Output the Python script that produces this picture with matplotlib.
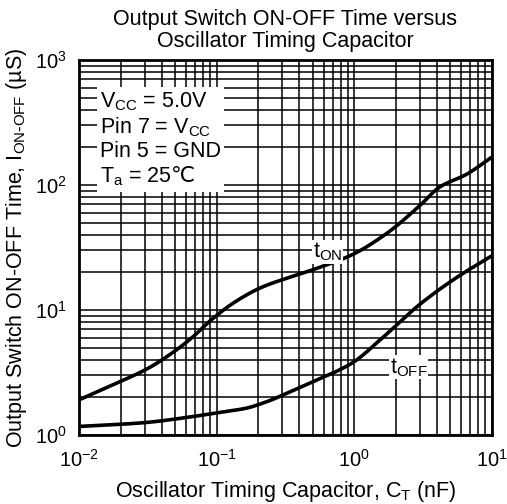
import numpy as np
import matplotlib
matplotlib.use("Agg")
import matplotlib.pyplot as plt
from matplotlib.ticker import LogLocator, FixedLocator

plt.rcParams['font.family'] = ['Liberation Sans', 'DejaVu Sans']
plt.rcParams['mathtext.fontset'] = 'custom'
plt.rcParams['mathtext.rm'] = 'DejaVu Sans'
plt.rcParams['mathtext.it'] = 'Liberation Sans'
plt.rcParams['mathtext.bf'] = 'Liberation Sans:bold'
plt.rcParams['mathtext.default'] = 'regular'

# data
ct_on = [0.01, 0.0163, 0.0317, 0.0498, 0.0662, 0.0925, 0.136, 0.213, 0.352,
         0.501, 0.961, 1.73, 3.0, 4.19, 6.58, 10.0]
t_on = [1.91, 2.43, 3.41, 4.70, 6.01, 8.43, 11.6, 15.2, 18.5,
        21.0, 27.6, 41.1, 68.4, 96.4, 122.0, 167.0]
ct_off = [0.01, 0.0287, 0.0662, 0.102, 0.161, 0.236, 0.352, 0.501, 0.961,
          1.61, 3.0, 5.56, 10.0]
t_off = [1.17, 1.25, 1.40, 1.51, 1.63, 1.86, 2.25, 2.67, 3.75,
         6.01, 11.1, 18.2, 27.1]

xticks = [1e-2, 1e-1, 1e0, 1e1]
xticklabels = [r'$10^{-2}$', r'$10^{-1}$', r'$10^{0}$', r'$10^{1}$']
yticks = [1e0, 1e1, 1e2, 1e3]
yticklabels = [r'$10^{0}$', r'$10^{1}$', r'$10^{2}$', r'$10^{3}$']

fig = plt.figure(figsize=(5.07, 5.04), dpi=100)
ax = fig.add_axes([0.156, 0.137, 0.814, 0.744])


def smooth(xs, ys):
    lx = np.log10(xs)
    ly = np.log10(ys)
    xx = np.linspace(lx[0], lx[-1], 300)
    h = np.diff(lx)
    d = np.diff(ly) / h
    m = np.zeros_like(ly)
    m[0] = d[0]
    m[-1] = d[-1]
    for i in range(1, len(ly) - 1):
        if d[i - 1] * d[i] > 0:
            w1 = 2 * h[i] + h[i - 1]
            w2 = h[i] + 2 * h[i - 1]
            m[i] = (w1 + w2) / (w1 / d[i - 1] + w2 / d[i])
    yy = np.empty_like(xx)
    for j, x in enumerate(xx):
        i = min(np.searchsorted(lx, x, side='right') - 1, len(lx) - 2)
        t = (x - lx[i]) / h[i]
        h00 = 2 * t**3 - 3 * t**2 + 1
        h10 = t**3 - 2 * t**2 + t
        h01 = -2 * t**3 + 3 * t**2
        h11 = t**3 - t**2
        yy[j] = h00 * ly[i] + h10 * h[i] * m[i] + h01 * ly[i + 1] + h11 * h[i] * m[i + 1]
    return 10**xx, 10**yy


ax.set_xscale('log')
ax.set_yscale('log')
ax.set_xlim(1e-2, 1e1)
ax.set_ylim(1e0, 1e3)

x1, y1 = smooth(ct_on, t_on)
x2, y2 = smooth(ct_off, t_off)
ax.plot(x1, y1, color='black', lw=2.6, zorder=3, solid_capstyle='butt')
ax.plot(x2, y2, color='black', lw=2.6, zorder=3, solid_capstyle='butt')

ax.xaxis.set_major_locator(FixedLocator(xticks))
ax.yaxis.set_major_locator(FixedLocator(yticks))
ax.set_xticklabels(xticklabels)
ax.set_yticklabels(yticklabels)
ax.xaxis.set_minor_locator(LogLocator(base=10, subs=np.arange(2, 10)))
ax.yaxis.set_minor_locator(LogLocator(base=10, subs=np.arange(2, 10)))
ax.xaxis.set_minor_formatter(plt.NullFormatter())
ax.yaxis.set_minor_formatter(plt.NullFormatter())
ax.tick_params(which='both', length=0, labelsize=14.5)
ax.tick_params(axis='x', pad=10)
ax.tick_params(axis='y', pad=9)
ax.grid(True, which='both', color='black', lw=1.1)
for s in ax.spines.values():
    s.set_linewidth(2)

ax.set_title('Output Switch ON-OFF Time versus\nOscillator Timing Capacitor',
             fontsize=15.5, pad=9, linespacing=1.12)
ax.set_xlabel(r'Oscillator Timing Capacitor, C$_T$ (nF)', fontsize=15.5, labelpad=6)
ax.set_ylabel(r'Output Switch ON-OFF Time, I$_{ON\text{-}OFF}$ (µS)', fontsize=15.5, labelpad=4)

box = 'V$_{CC}$ = 5.0V\nPin 7 = V$_{CC}$\nPin 5 = GND\nT$_a$ = 25$\\mathrm{℃}$'
ax.text(0.0142, 104, box, fontsize=15.5, va='baseline', ha='left', linespacing=1.13,
        bbox=dict(facecolor='white', edgecolor='none', pad=2.5), zorder=4)

ax.text(0.501, 26.1, 't$_{ON}$', fontsize=15.5, ha='left', va='baseline',
        bbox=dict(facecolor='white', edgecolor='none', pad=0.5), zorder=4)
ax.text(1.81, 3.13, 't$_{OFF}$', fontsize=15.5, ha='left', va='baseline',
        bbox=dict(facecolor='white', edgecolor='none', pad=0.5), zorder=4)

fig.savefig('out.png', dpi=100)
